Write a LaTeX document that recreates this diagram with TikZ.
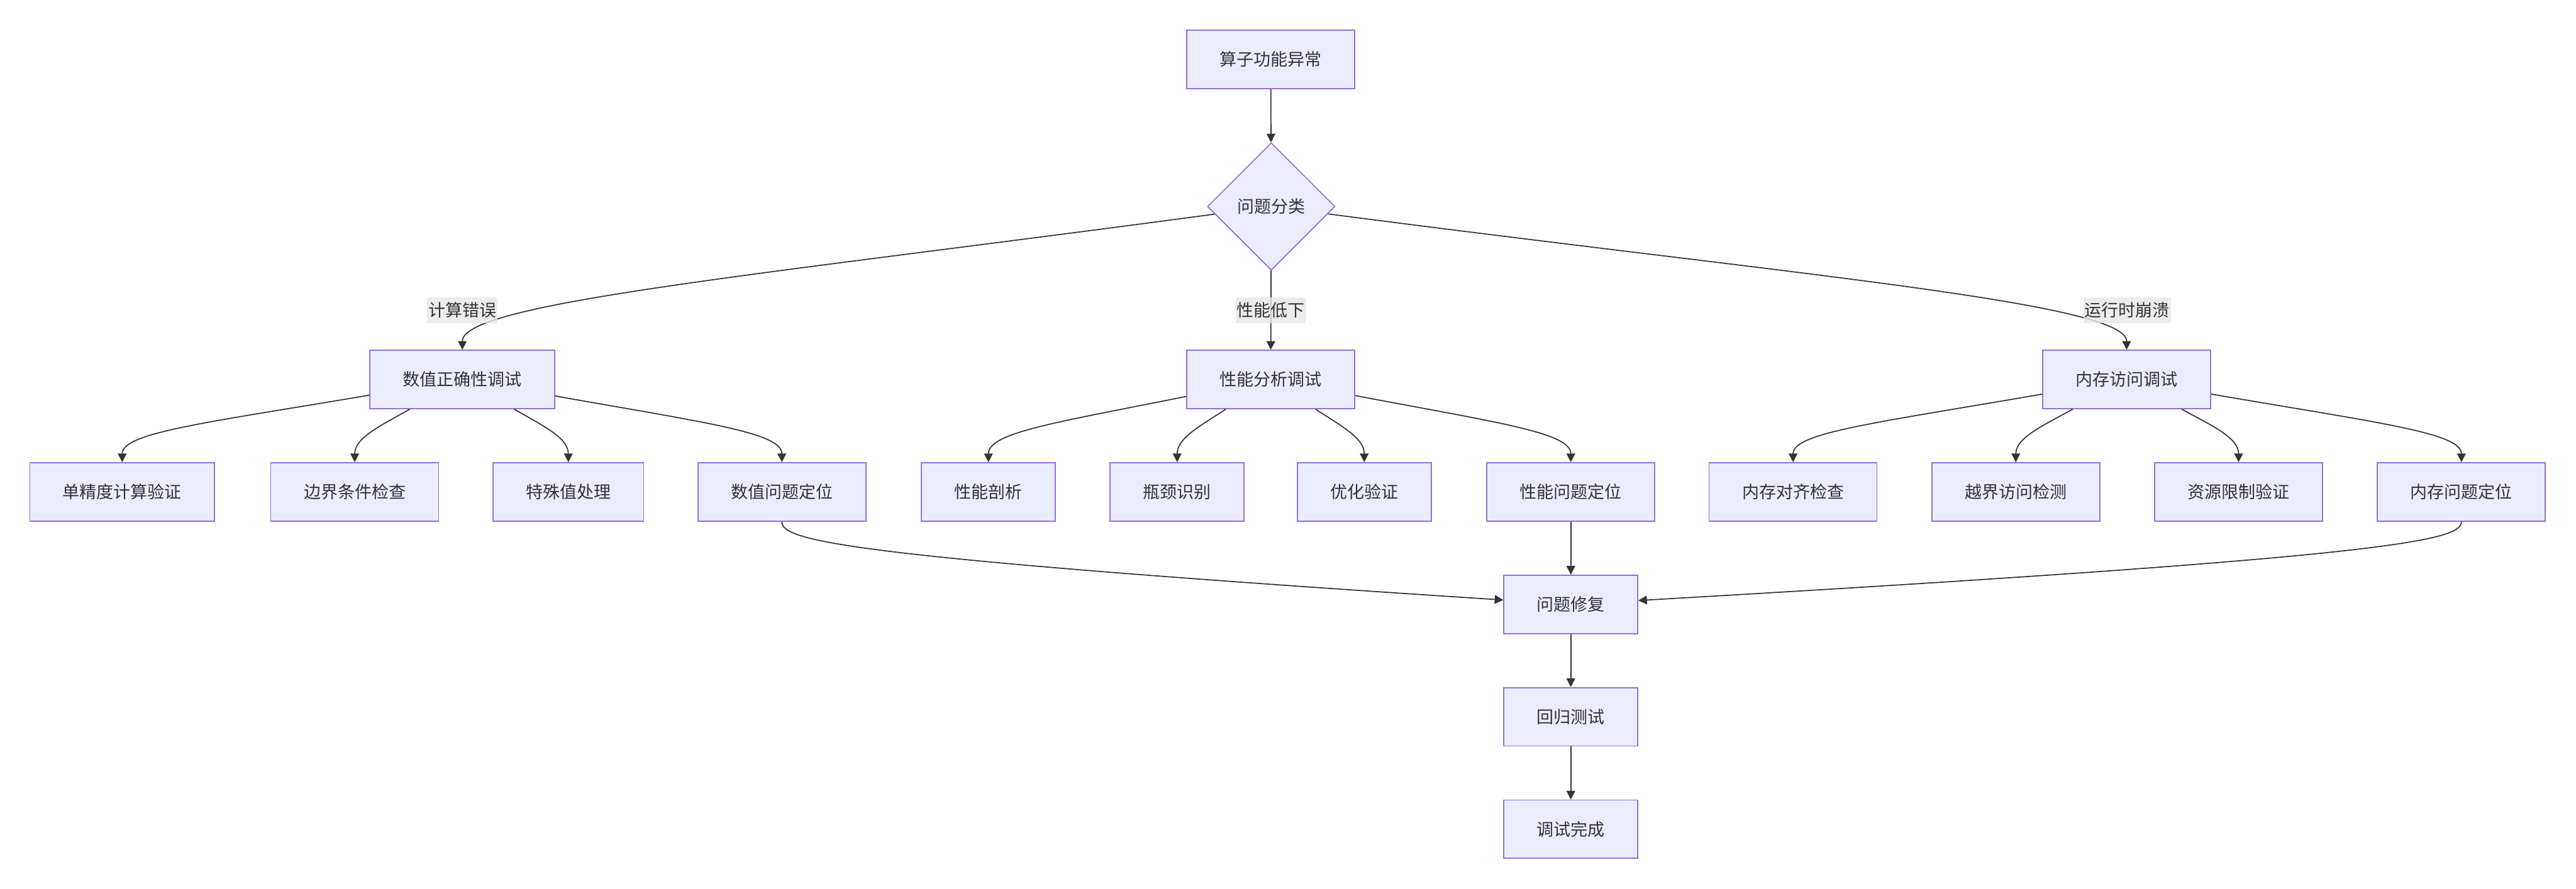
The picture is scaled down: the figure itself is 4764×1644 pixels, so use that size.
\documentclass[tikz,border=0pt]{standalone}
\usepackage{fontspec}
\newfontfamily\cjk{Noto Sans CJK SC}
\usetikzlibrary{shapes.geometric,arrows.meta}
\definecolor{nodefill}{HTML}{ECECFF}
\definecolor{nodeline}{HTML}{9370DB}
\definecolor{edgecol}{HTML}{333333}
\definecolor{lblfill}{HTML}{E8E8E8}
\begin{document}
\begin{tikzpicture}[x=0.5pt,y=-0.5pt,
  txt/.style={text=edgecol,font=\cjk\fontsize{15.7}{18}\selectfont},
  box/.style={txt,draw=nodeline,fill=nodefill,line width=1pt,minimum height=54pt,inner xsep=30.5pt,inner ysep=0pt},
  dec/.style={txt,diamond,aspect=1,draw=nodeline,fill=nodefill,line width=1pt,minimum width=118pt,minimum height=118pt,inner sep=0pt},
  lbl/.style={txt,fill=lblfill,fill opacity=0.8,text opacity=1,inner xsep=1pt,inner ysep=0pt,minimum height=24pt},
  edge/.style={draw=edgecol,line width=1pt,-{Triangle[length=8pt,width=8pt]}}
]
\fill[white] (0,0) rectangle (4764,1644);
\useasboundingbox (0,0) rectangle (4764,1644);

% nodes
\node[box] (top) at (2350,110) {算子功能异常};
\node[dec] (cls) at (2351,382) {问题分类};
\node[box] (num) at (855,702) {数值正确性调试};
\node[box] (perf) at (2350,702) {性能分析调试};
\node[box] (mem) at (3933,702) {内存访问调试};

\node[box] (a1) at (226,910) {单精度计算验证};
\node[box] (a2) at (656,910) {边界条件检查};
\node[box] (a3) at (1051,910) {特殊值处理};
\node[box] (a4) at (1446,910) {数值问题定位};
\node[box] (b1) at (1828,910) {性能剖析};
\node[box] (b2) at (2177,910) {瓶颈识别};
\node[box] (b3) at (2523,910) {优化验证};
\node[box] (b4) at (2905,910) {性能问题定位};
\node[box] (c1) at (3316,910) {内存对齐检查};
\node[box] (c2) at (3728,910) {越界访问检测};
\node[box] (c3) at (4140,910) {资源限制验证};
\node[box] (c4) at (4552,910) {内存问题定位};

\node[box] (fix) at (2905,1118) {问题修复};
\node[box] (reg) at (2905,1326) {回归测试};
\node[box] (done) at (2905,1534) {调试完成};

% edges
\draw[edge] (top) -- (cls);
\draw[edge] (cls) .. controls (1400,510) and (855,560) .. (num.north);
\draw[edge] (cls) -- (perf);
\draw[edge] (cls) .. controls (3330,510) and (3933,560) .. (mem.north);

\draw[edge] (num) .. controls (382,782) and (226,800) .. (a1.north);
\draw[edge] (num) .. controls (703,788) and (656,810) .. (a2.north);
\draw[edge] (num) .. controls (1005,788) and (1051,810) .. (a3.north);
\draw[edge] (num) .. controls (1304,782) and (1446,800) .. (a4.north);

\draw[edge] (perf) .. controls (1952,782) and (1828,800) .. (b1.north);
\draw[edge] (perf) .. controls (2220,788) and (2177,810) .. (b2.north);
\draw[edge] (perf) .. controls (2480,788) and (2523,810) .. (b3.north);
\draw[edge] (perf) .. controls (2770,782) and (2905,800) .. (b4.north);

\draw[edge] (mem) .. controls (3472,782) and (3316,800) .. (c1.north);
\draw[edge] (mem) .. controls (3777,788) and (3728,810) .. (c2.north);
\draw[edge] (mem) .. controls (4092,788) and (4140,810) .. (c3.north);
\draw[edge] (mem) .. controls (4395,782) and (4552,800) .. (c4.north);

\draw[edge] (a4) .. controls (1446,1000) and (1550,1030) .. (fix);
\draw[edge] (b4) -- (fix);
\draw[edge] (c4) .. controls (4552,1000) and (4433,1030) .. (fix);
\draw[edge] (fix) -- (reg);
\draw[edge] (reg) -- (done);

% edge labels
\node[lbl] (l1) at (855,574) {计算错误};
\node[lbl] (l2) at (2350,574) {性能低下};
\node[lbl] (l3) at (3934,574) {运行时崩溃};
\end{tikzpicture}
\end{document}
